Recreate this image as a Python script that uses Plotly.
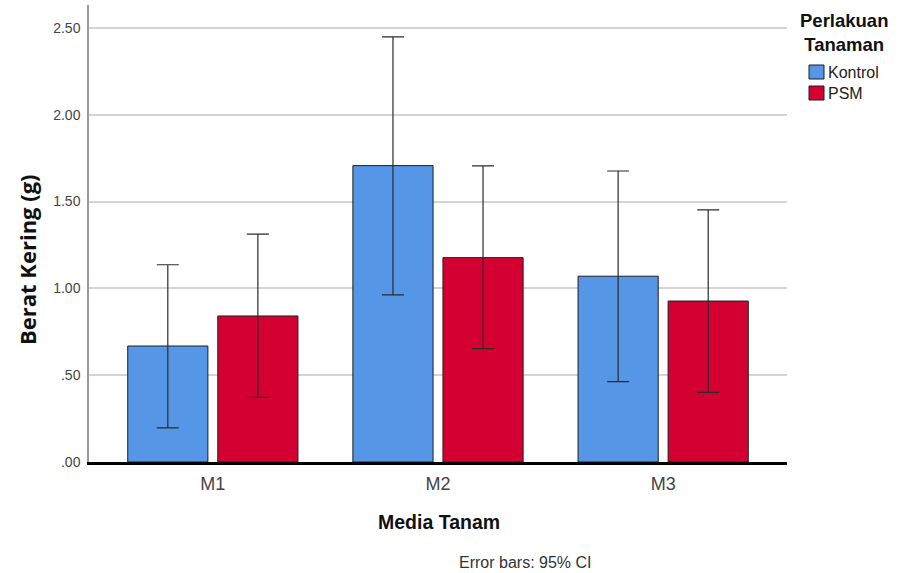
import plotly.graph_objects as go

# Dry weight by growing medium and plant treatment (means with 95% CI)
media = ["M1", "M2", "M3"]
treatments = ["Kontrol", "PSM"]
kontrol_mean = [0.668, 1.707, 1.070]
kontrol_upper = [1.136, 2.448, 1.676]
kontrol_lower = [0.197, 0.962, 0.463]
psm_mean = [0.841, 1.177, 0.927]
psm_upper = [1.312, 1.705, 1.452]
psm_lower = [0.373, 0.653, 0.401]

y_ticks = [0.0, 0.5, 1.0, 1.5, 2.0, 2.5]
y_tick_labels = [".00", ".50", "1.00", "1.50", "2.00", "2.50"]

BLUE = "#5596E6"
RED = "#D50032"
ERR = "#2b2b2b"
COLORS = [BLUE, RED]

W, H = 901, 573
ML, MR, MT, MB = 89, 114, 5, 111
PW, PH = W - ML - MR, H - MT - MB


def px(x, y):
    """Pixel position on the page -> paper coordinates (for legend/labels)."""
    return (x - ML) / PW, (H - MB - y) / PH


def ci_bar(name, means, upper, lower, color):
    return go.Bar(
        name=name,
        x=media,
        y=means,
        showlegend=False,
        marker=dict(color=color, line=dict(color="#1e1e1e", width=1)),
        error_y=dict(
            type="data",
            symmetric=False,
            array=[u - m for u, m in zip(upper, means)],
            arrayminus=[m - l for m, l in zip(means, lower)],
            color=ERR,
            thickness=1.2,
            width=11,
        ),
    )


fig = go.Figure([
    ci_bar("Kontrol", kontrol_mean, kontrol_upper, kontrol_lower, BLUE),
    ci_bar("PSM", psm_mean, psm_upper, psm_lower, RED),
])

annotations = []
shapes = []

# Y axis title
x0, y0 = px(27, 260)
annotations.append(dict(
    text="<b>Berat Kering (g)</b>", xref="paper", yref="paper", x=x0, y=y0,
    xanchor="center", yanchor="middle", textangle=-90, showarrow=False,
    font=dict(family="Open Sans, sans-serif", size=22, color="#111"),
))

# X axis title
x0, y0 = px(439, 522)
annotations.append(dict(
    text="<b>Media Tanam</b>", xref="paper", yref="paper", x=x0, y=y0,
    xanchor="center", yanchor="middle", showarrow=False,
    font=dict(size=19.5, color="#111"),
))

# Footnote
x0, y0 = px(524.5, 562)
annotations.append(dict(
    text="Error bars: 95% CI", xref="paper", yref="paper", x=x0, y=y0,
    xanchor="center", yanchor="middle", showarrow=False,
    font=dict(size=16, color="#333"),
))

# Legend: two-line title and colour keys
x0, y0 = px(844, 33)
annotations.append(dict(
    text="<b>Perlakuan<br>Tanaman</b>", xref="paper", yref="paper", x=x0, y=y0,
    xanchor="center", yanchor="middle", align="center", showarrow=False,
    font=dict(size=18.5, color="#111"),
))

for i, (label, color) in enumerate(zip(treatments, COLORS)):
    top = 65 + i * 21
    sx0, sy0 = px(809, top)
    sx1, sy1 = px(824, top + 14)
    shapes.append(dict(
        type="rect", xref="paper", yref="paper",
        x0=sx0, x1=sx1, y0=sy1, y1=sy0,
        fillcolor=color, line=dict(color="#1e1e1e", width=1),
    ))
    tx, ty = px(826, top + 7.5)
    annotations.append(dict(
        text=label, xref="paper", yref="paper", x=tx, y=ty,
        xanchor="left", yanchor="middle", showarrow=False,
        font=dict(size=16, color="#222"),
    ))

fig.update_layout(
    width=W,
    height=H,
    margin=dict(l=ML, r=MR, t=MT, b=MB),
    paper_bgcolor="white",
    plot_bgcolor="white",
    barmode="group",
    bargap=0.2,
    bargroupgap=0.11,
    showlegend=False,
    font=dict(family="Liberation Sans, Arial, sans-serif", color="#222"),
    annotations=annotations,
    shapes=shapes,
)

fig.update_xaxes(
    type="category",
    range=[-0.55, 2.55],
    showgrid=False,
    showline=True,
    linecolor="black",
    linewidth=3,
    ticks="",
    ticklabelstandoff=3,
    tickfont=dict(size=18, color="#444"),
)

fig.update_yaxes(
    range=[0, 2.632],
    tickvals=y_ticks,
    ticktext=y_tick_labels,
    tickfont=dict(size=14, color="#444"),
    ticklabelstandoff=4,
    showgrid=True,
    gridcolor="#d4d4d4",
    gridwidth=1.5,
    zeroline=False,
    showline=True,
    linecolor="#9a9a9a",
    linewidth=1.5,
    ticks="",
)

fig.write_html("out.html")
